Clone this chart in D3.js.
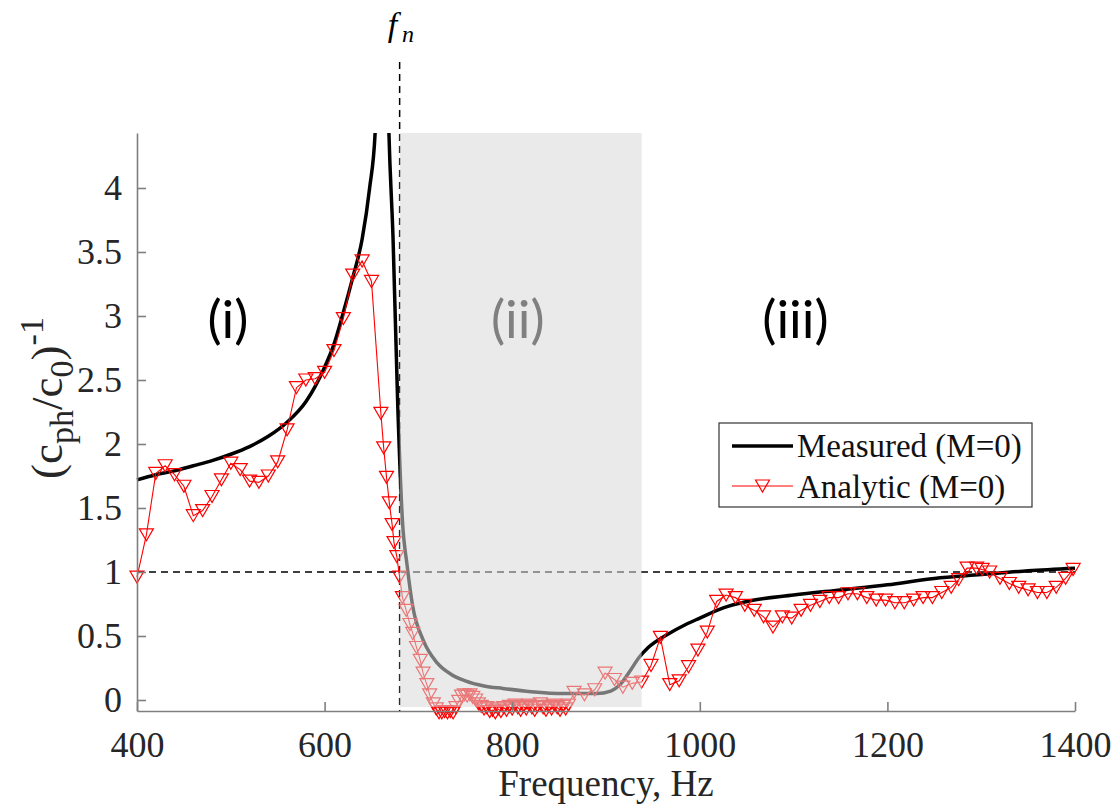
<!DOCTYPE html>
<meta charset="utf-8">
<style>
body { margin: 0; background: #fff; }
svg { display: block; }
.axis path, .axis line { fill: none; stroke: #7f7f7f; stroke-width: 1.6; }
.axis text { font: 36px "Liberation Serif", "Times New Roman", serif; fill: #262626; }
.region { font: 53px Lato, "Open Sans", sans-serif; }
.leg { font: 33px "Liberation Serif", "Times New Roman", serif; fill: #111; }
</style>
<svg id="plot" width="1113" height="805"></svg>
<script src="https://d3js.org/d3.v7.min.js"></script>
<script>

// measured (black) curve
var measFreq = [400,420,440,460,480,500,520,540,560,580,600,610,620,630,640,648,654,660,
  668,673,678,683,688,694,705,720,735,750,770,790,820,855,890,905,915,925,935,945,965,985,
  1000,1025,1050,1100,1150,1200,1250,1300,1350,1400];
var measVal = [1.72,1.76,1.79,1.83,1.87,1.92,1.98,2.06,2.17,2.33,2.60,2.78,3.03,3.30,3.60,4.00,4.45,9.0,
  4.60,3.60,2.30,1.40,1.05,0.73,0.47,0.29,0.20,0.15,0.11,0.09,0.065,0.05,0.05,0.07,0.12,0.22,0.33,0.41,0.51,0.59,
  0.64,0.72,0.77,0.82,0.86,0.90,0.95,0.98,1.01,1.03];

// analytic (red) curve
var anaFreq = [400,410,420,430,440,450,460,470,480,490,500,510,520,530,540,550,560,570,580,590,600,
  610,620,630,640,650,660,663,666,669,672,674,677,680,683,687,691,694,698,702,705,709,712,
  716,719,722,725,728,731,734,737,740,743,746,749,752,755,758,761,764,767,770,773,776,779,782,785,
  788,791,794,797,800,803,806,809,812,815,818,821,824,827,830,833,836,839,842,845,848,851,854,857,860,
  866,877,888,899,909,918,928,938,948,958,968,978,988,998,1008,1018,1028,1038,1048,1058,1068,1078,
  1088,1098,1108,1118,1128,1138,1148,1158,1168,1178,1188,1198,1208,1218,1228,1238,1248,1258,1268,
  1276,1285,1295,1301,1309,1320,1330,1340,1350,1360,1370,1380,1390,1398];
var anaVal = [0.96,1.29,1.77,1.83,1.76,1.67,1.44,1.48,1.59,1.72,1.85,1.80,1.71,1.70,1.75,1.86,2.11,2.44,2.50,2.51,2.56,
  2.73,2.98,3.32,3.43,3.27,2.24,1.97,1.74,1.54,1.37,1.23,1.12,0.96,0.80,0.70,0.59,0.52,0.41,0.31,0.21,0.12,0.04,
  -0.03,-0.07,-0.10,-0.10,-0.09,-0.10,-0.09,-0.10,-0.06,-0.01,0.03,0.04,0.03,0.04,0.02,0.00,-0.03,-0.05,-0.07,-0.06,-0.09,-0.08,-0.10,-0.07,
  -0.09,-0.06,-0.08,-0.05,-0.07,-0.04,-0.06,-0.08,-0.05,-0.07,-0.04,-0.06,-0.08,-0.05,-0.03,-0.06,-0.08,-0.05,-0.07,-0.04,-0.06,-0.08,-0.05,-0.07,-0.04,
  0.06,0.04,0.08,0.21,0.16,0.10,0.13,0.14,0.27,0.49,0.12,0.15,0.26,0.39,0.53,0.77,0.82,0.80,0.74,0.70,0.65,0.57,
  0.65,0.64,0.70,0.74,0.77,0.80,0.80,0.83,0.83,0.80,0.78,0.78,0.76,0.76,0.78,0.80,0.80,0.84,0.88,
  0.94,1.03,1.03,1.02,1.00,0.95,0.91,0.88,0.86,0.84,0.84,0.88,0.95,1.02];

var xTicks = [400,600,800,1000,1200,1400];
var yTicks = [0,0.5,1,1.5,2,2.5,3,3.5,4];
var fn = 680, bandEnd = 938;
var regions = [{t: "(i)", f: 497}, {t: "(ii)", f: 806}, {t: "(iii)", f: 1102}];

var svg = d3.select("svg");

var x = d3.scaleLinear().domain([400, 1400]).range([137, 1075]);
var y = d3.scaleLinear().domain([-0.0859, 4.4297]).range([711, 133]);

var meas = measFreq.map(function(f, i) { return [f, measVal[i]]; });
var ana = anaFreq.map(function(f, i) { return [f, anaVal[i]]; });

svg.append("clipPath").attr("id", "clip")
  .append("rect").attr("x", 130).attr("y", 133).attr("width", 960).attr("height", 620);

// reference lines
svg.append("line")
    .attr("x1", x(400)).attr("x2", x(1400)).attr("y1", y(1)).attr("y2", y(1))
    .attr("stroke", "#000").attr("stroke-width", 1.5).attr("stroke-dasharray", "7,5");
svg.append("line")
    .attr("x1", x(fn)).attr("x2", x(fn)).attr("y1", 62).attr("y2", y.range()[0])
    .attr("stroke", "#000").attr("stroke-width", 1.5).attr("stroke-dasharray", "7,5");

var line = d3.line().x(function(d) { return x(d[0]); }).y(function(d) { return y(d[1]); });

svg.append("path")
    .attr("clip-path", "url(#clip)")
    .attr("d", line.curve(d3.curveMonotoneX)(meas))
    .attr("fill", "none").attr("stroke", "#000").attr("stroke-width", 3.5);

svg.append("path")
    .attr("d", d3.line().x(function(d) { return x(d[0]); }).y(function(d) { return y(d[1]); })(ana))
    .attr("fill", "none").attr("stroke", "#ff0000").attr("stroke-width", 1.1);

var tri = "M-7,-6L7,-6L0,6Z";
svg.append("g").selectAll("path").data(ana).enter().append("path")
    .attr("transform", function(d) { return "translate(" + x(d[0]) + "," + y(d[1]) + ")"; })
    .attr("d", tri)
    .attr("fill", "none").attr("stroke", "#ff0000").attr("stroke-width", 1.2);

// shaded band (ii), drawn over the lines
svg.append("rect")
    .attr("x", x(fn)).attr("y", y.range()[1])
    .attr("width", x(bandEnd) - x(fn)).attr("height", y(-0.055) - y.range()[1])
    .attr("fill", "#d9d9d9").attr("opacity", 0.55);

// axes
svg.append("g").attr("class", "axis")
    .attr("transform", "translate(0," + y.range()[0] + ")")
    .call(d3.axisBottom(x).tickValues(xTicks).tickSize(-9).tickSizeOuter(0).tickPadding(20).tickFormat(d3.format("d")));
svg.append("g").attr("class", "axis")
    .attr("transform", "translate(" + x.range()[0] + ",0)")
    .call(d3.axisLeft(y).tickValues(yTicks).tickSize(-9).tickSizeOuter(0).tickPadding(15).tickFormat(function(d) { return d; }));

// axis titles
svg.append("text")
    .attr("x", x(900)).attr("y", 796)
    .attr("text-anchor", "middle")
    .style("font", "37px 'Liberation Serif', serif").style("fill", "#262626")
    .text("Frequency, Hz");

var yl = svg.append("text")
    .attr("transform", "translate(62,398) rotate(-90)")
    .attr("text-anchor", "middle")
    .style("font", "45px 'Liberation Serif', serif").style("fill", "#262626");
yl.append("tspan").text("(c");
yl.append("tspan").attr("dy", 11).style("font-size", "34px").text("ph");
yl.append("tspan").attr("dy", -11).text("/c");
yl.append("tspan").attr("dy", 11).style("font-size", "34px").text("0");
yl.append("tspan").attr("dy", -11).text(")");
yl.append("tspan").attr("dy", -19).style("font-size", "34px").text("-1");

// f_n label
var fl = svg.append("text")
    .attr("x", x(fn) - 12).attr("y", 36)
    .style("font", "italic 34px 'Liberation Serif', serif").style("fill", "#000");
fl.append("tspan").text("f");
fl.append("tspan").attr("dy", 6).attr("dx", 5).style("font-size", "24px").text("n");

// region labels
svg.append("g").selectAll("text").data(regions).enter().append("text")
    .attr("class", "region")
    .attr("x", function(d) { return x(d.f); })
    .attr("y", y(2.83))
    .attr("text-anchor", "middle")
    .style("fill", function(d) { return d.t == "(ii)" ? "#808080" : "#000"; })
    .text(function(d) { return d.t; });

// legend
var leg = svg.append("g").attr("transform", "translate(719,423)");
leg.append("rect").attr("width", 313).attr("height", 84)
    .attr("fill", "#fff").attr("stroke", "#333").attr("stroke-width", 1.2);
leg.append("line").attr("x1", 13).attr("x2", 74).attr("y1", 23).attr("y2", 23)
    .attr("stroke", "#000").attr("stroke-width", 3.5);
leg.append("text").attr("class", "leg").attr("x", 78).attr("y", 34).text("Measured (M=0)");
leg.append("line").attr("x1", 13).attr("x2", 74).attr("y1", 63).attr("y2", 63)
    .attr("stroke", "#ff0000").attr("stroke-width", 1.1);
leg.append("path").attr("transform", "translate(43.5,63)").attr("d", tri)
    .attr("fill", "none").attr("stroke", "#ff0000").attr("stroke-width", 1.2);
leg.append("text").attr("class", "leg").attr("x", 78).attr("y", 75).text("Analytic (M=0)");

</script>
